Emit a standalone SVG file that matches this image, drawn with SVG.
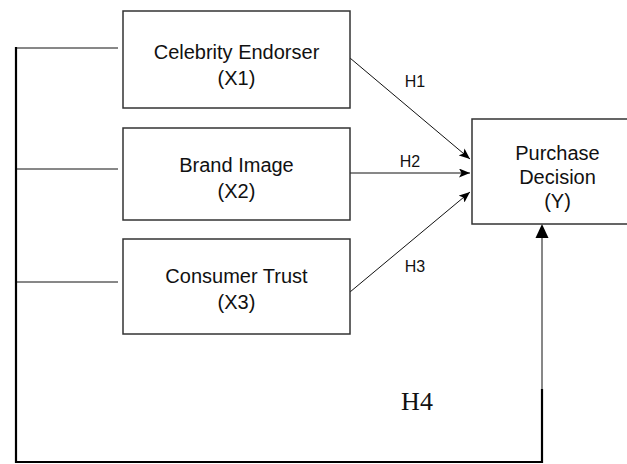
<svg xmlns="http://www.w3.org/2000/svg" width="627" height="464" viewBox="0 0 627 464">
<style>
.box{fill:#fff;stroke:#333;stroke-width:1.5}
.lbl{font-family:"Liberation Sans",Arial,sans-serif;font-size:20px;fill:#111;text-anchor:middle}
.h{font-family:"Liberation Sans",Arial,sans-serif;font-size:16px;fill:#111;text-anchor:middle}
.h4{font-family:"Liberation Serif","Times New Roman",serif;font-size:26px;fill:#111;text-anchor:middle}
.thin{stroke:#111;stroke-width:1;fill:none}
.thick{stroke:#000;stroke-width:2.2;fill:none}
</style>
<defs>
<marker id="arr" markerUnits="userSpaceOnUse" markerWidth="11" markerHeight="9" refX="11" refY="4.5" orient="auto">
<path d="M0,0 L11,4.5 L0,9 L2.5,4.5 Z" fill="#000"/>
</marker>
</defs>
<rect width="627" height="464" fill="#fff"/>
<g id="connectors">
<path class="thin" d="M16,48 H118"/>
<path class="thin" d="M16,169 H118"/>
<path class="thin" d="M16,282 H118"/>
<path class="thick" d="M16,47 V462 H542 V389"/>
<path class="thin" d="M542,389 V237"/>
<polygon points="542,224 535.5,238 548.5,238" fill="#000"/>
<line class="thin" x1="350" y1="58" x2="470" y2="159" marker-end="url(#arr)"/>
<line class="thin" x1="350" y1="173" x2="470" y2="173" marker-end="url(#arr)"/>
<line class="thin" x1="350" y1="292" x2="470" y2="192" marker-end="url(#arr)"/>
<text class="h" x="415" y="87">H1</text>
<text class="h" x="410" y="167">H2</text>
<text class="h" x="415" y="272">H3</text>
<text class="h4" x="417" y="410">H4</text>
</g>
<g id="x1">
<rect class="box" x="123" y="11" width="227" height="97"/>
<text class="lbl" x="236.5" y="59">Celebrity Endorser</text>
<text class="lbl" x="236.5" y="85">(X1)</text>
</g>
<g id="x2">
<rect class="box" x="123" y="128" width="227" height="92"/>
<text class="lbl" x="236.5" y="172">Brand Image</text>
<text class="lbl" x="236.5" y="198">(X2)</text>
</g>
<g id="x3">
<rect class="box" x="123" y="239" width="227" height="95"/>
<text class="lbl" x="236.5" y="283">Consumer Trust</text>
<text class="lbl" x="236.5" y="309">(X3)</text>
</g>
<g id="y">
<rect class="box" x="472" y="119" width="170" height="105"/>
<text class="lbl" x="557.5" y="160">Purchase</text>
<text class="lbl" x="557.5" y="184">Decision</text>
<text class="lbl" x="557.5" y="208">(Y)</text>
</g>
</svg>
